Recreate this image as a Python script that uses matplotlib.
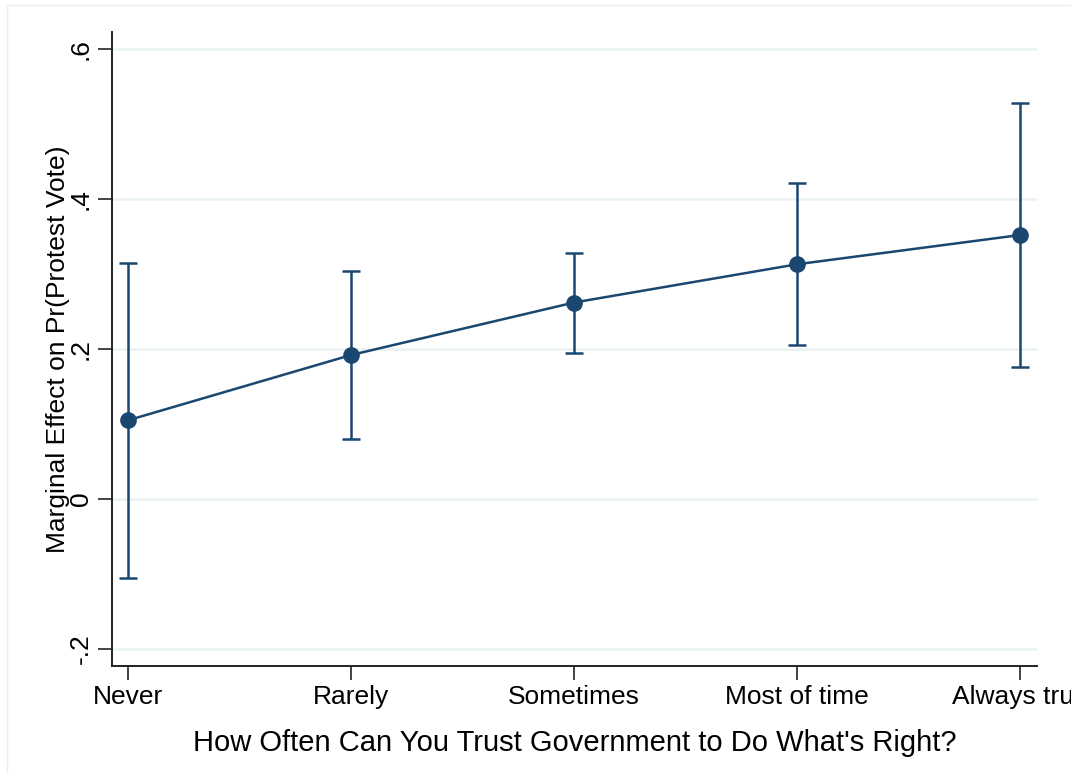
import numpy as np
import matplotlib.pyplot as plt
from matplotlib.lines import Line2D

# Marginal effects by level of trust in government
categories = ["Never", "Rarely", "Sometimes", "Most of time", "Always true"]
effect = [0.105, 0.192, 0.262, 0.313, 0.352]
ci_low = [-0.105, 0.080, 0.195, 0.205, 0.176]
ci_high = [0.315, 0.304, 0.328, 0.422, 0.528]

plt.rcParams['font.family'] = ['Liberation Sans', 'DejaVu Sans']
navy = '#1a476f'

fig = plt.figure(figsize=(10.71, 7.73), dpi=100)
ax = fig.add_axes([0.1046, 0.1384, 0.8637, 0.8202])

x = np.arange(1, len(categories) + 1)
eff = np.array(effect)
lo = np.array(ci_low)
hi = np.array(ci_high)

ax.errorbar(x, eff, yerr=[eff - lo, hi - eff], fmt='none', ecolor=navy,
            elinewidth=1.8, capsize=6.5, capthick=1.8, zorder=3)
ax.plot(x, eff, color=navy, lw=1.8, marker='o', markersize=11, zorder=4)

ax.set_xlim(0.928, 5.076)
ax.set_ylim(-0.2227, 0.6227)
yt = [-0.2, 0, 0.2, 0.4, 0.6]
ax.set_yticks(yt)
ax.set_yticklabels(['-.2', '0', '.2', '.4', '.6'], rotation=90, va='center')
ax.set_xticks(x)
ax.set_xticklabels(categories)
ax.grid(axis='y', color='#eaf2f3', lw=1.8)
ax.set_axisbelow(True)

for s in ['top', 'right']:
    ax.spines[s].set_visible(False)
for s in ['left', 'bottom']:
    ax.spines[s].set_linewidth(1.4)
    ax.spines[s].set_color('#222222')
ax.tick_params(axis='both', labelsize=19, length=10, width=1.2, color='#222222', pad=4)

ax.set_xlabel("How Often Can You Trust Government to Do What's Right?", fontsize=21, labelpad=14)
ax.set_ylabel("Marginal Effect on Pr(Protest Vote)", fontsize=19, labelpad=-1)

# faint outer frame
fig.add_artist(Line2D([7 / 1071, 7 / 1071], [0, 1 - 5 / 773], transform=fig.transFigure,
                      color='#eeeeee', lw=1))
fig.add_artist(Line2D([7 / 1071, 1], [1 - 5 / 773, 1 - 5 / 773], transform=fig.transFigure,
                      color='#eeeeee', lw=1))

fig.savefig("out.png", dpi=100)
